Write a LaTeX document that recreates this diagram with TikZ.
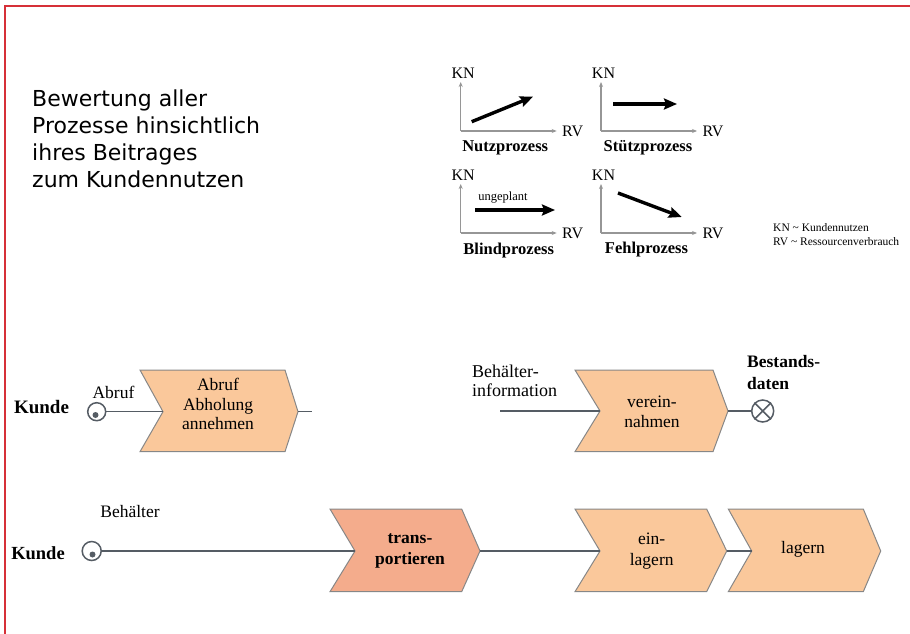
\documentclass[tikz,border=0pt]{standalone}
\usepackage{fontspec}
\setmainfont{Liberation Serif}
\newfontfamily\titlefont{DejaVu Sans}
\usepackage{xcolor}
\usepackage{tikz}
\usetikzlibrary{arrows, arrows.meta}

\definecolor{frame}{RGB}{214,48,56}
\definecolor{peach}{RGB}{250,200,155}
\definecolor{salmon}{RGB}{244,172,140}
\definecolor{edge}{RGB}{135,135,135}
\definecolor{wire}{RGB}{85,92,100}
\definecolor{axisgray}{RGB}{150,150,150}

\tikzset{
  chev/.style={draw=edge, line width=1pt, line join=miter},
  chevtxt/.style={font=\fontsize{17.5}{19.5}\selectfont, align=center, inner sep=0pt},
  label/.style={font=\fontsize{17.5}{19}\selectfont, inner sep=0pt},
  boldlabel/.style={font=\fontsize{17.5}{21.5}\selectfont\bfseries, inner sep=0pt},
  conn/.style={draw=wire, line width=1.2pt},
  axis/.style={draw=axisgray, line width=1.3pt, -{Stealth[length=5pt,width=4pt]}},
  trend/.style={draw=black, line width=3.4pt, -{Stealth[length=13pt,width=11pt,inset=2pt]}},
  axtxt/.style={font=\fontsize{16}{16}\selectfont, inner sep=0pt},
  chtitle/.style={font=\fontsize{16.5}{17}\selectfont\bfseries, inner sep=0pt},
  evcircle/.style={circle, draw=wire, line width=1.5pt, minimum size=18pt, inner sep=0pt},
}

\begin{document}
\begin{tikzpicture}[x=1pt, y=-1pt]
\useasboundingbox (0,0) rectangle (910,634);
% red frame (top and left only)
\draw[frame, line width=2pt] (5,634) -- (5,6) -- (910,6);

% heading
\node[anchor=north west, align=left, inner sep=0pt,
  font=\titlefont\fontsize{22}{27}\selectfont] (heading) at (32,90)
  {Bewertung aller\\Prozesse hinsichtlich\\ihres Beitrages\\zum Kundennutzen};

% four process types
\begin{scope}[shift={(460.7,131)}]
\draw[axis] (0,0) -- (0,-49);
\draw[axis] (0,0) -- (96,0);
\node[axtxt] (kn1) at (2.5,-58) {KN};
\node[axtxt] (rv1) at (112,0) {RV};
\node[chtitle] (nutz) at (44.5,17) {Nutzprozess};
\draw[trend] (11,-9.3) -- (72.3,-34.3);
\end{scope}

\begin{scope}[shift={(601,131)}]
\draw[axis] (0,0) -- (0,-49);
\draw[axis] (0,0) -- (96,0);
\node[axtxt] (kn2) at (2.5,-58) {KN};
\node[axtxt] (rv2) at (112,0) {RV};
\node[chtitle] (stuetz) at (47,17) {Stützprozess};
\draw[trend] (12,-27) -- (76,-27);
\end{scope}

\begin{scope}[shift={(460.7,233)}]
\draw[axis] (0,0) -- (0,-49);
\draw[axis] (0,0) -- (96,0);
\node[axtxt] (kn3) at (2.5,-58) {KN};
\node[axtxt] (rv3) at (112,0) {RV};
\node[chtitle] (blind) at (48,18) {Blindprozess};
\node[font=\fontsize{12.5}{12}\selectfont, inner sep=0pt] (ungeplant) at (42.3,-35) {ungeplant};
\draw[trend] (14.3,-23) -- (94.3,-23);
\end{scope}

\begin{scope}[shift={(601,233)}]
\draw[axis] (0,0) -- (0,-49);
\draw[axis] (0,0) -- (96,0);
\node[axtxt] (kn4) at (2.5,-58) {KN};
\node[axtxt] (rv4) at (112,0) {RV};
\node[chtitle] (fehl) at (45.5,17) {Fehlprozess};
\draw[trend] (17,-40) -- (80.7,-16);
\end{scope}

\node[anchor=west, inner sep=0pt, font=\fontsize{11.5}{11}\selectfont] (legkn) at (773,228) {KN \textasciitilde{} Kundennutzen};
\node[anchor=west, inner sep=0pt, font=\fontsize{11.5}{11}\selectfont] (legrv) at (773,242) {RV \textasciitilde{} Ressourcenverbrauch};

% first row
\node[boldlabel, font=\fontsize{19}{21}\selectfont\bfseries] (kunde1) at (41.5,407) {Kunde};
\node[evcircle] (ev1) at (96.7,411.7) {};
\fill[wire] (95.5,415) circle (3);
\node[label] (abruf) at (113.5,392) {Abruf};
\draw[chev, fill=peach] (140,370) -- (285,370) -- (298,411.7) -- (285,451.7)
  -- (140,451.7) -- (163,411.7) -- cycle;
\coordinate (abrufIn) at (163,411.7);
\coordinate (abrufOut) at (298,411.7);
\node[chevtxt] (abholung) at (218,404) {Abruf\\Abholung\\annehmen};
\coordinate (abrufEnd) at (311.7,411.7);
\draw[conn] (ev1) -- (abrufIn);
\draw[conn] (abrufOut) -- (abrufEnd);

\node[label, anchor=west, align=left, font=\fontsize{18}{18.5}\selectfont] (behinfo) at (472,381) {Behälter-\\information};
\coordinate (infoStart) at (500,411);
\draw[chev, fill=peach] (575,370) -- (713,370) -- (728,411) -- (713,451.7)
  -- (575,451.7) -- (600,411) -- cycle;
\coordinate (vereinIn) at (600,411);
\coordinate (vereinOut) at (728,411);
\node[chevtxt] (verein) at (652,411.7) {verein-\\nahmen};
\node[evcircle, minimum size=22pt] (xor) at (762.7,411) {};
\draw[wire, line width=1.5pt] (xor.north east) -- (xor.south west)
  (xor.north west) -- (xor.south east);
\node[boldlabel, anchor=west, align=left] (bestand) at (747,372.5) {Bestands-\\daten};
\draw[conn] (infoStart) -- (vereinIn);
\draw[conn] (vereinOut) -- (xor);

% second row
\node[boldlabel, font=\fontsize{18.5}{21}\selectfont\bfseries] (kunde2) at (38,553.3) {Kunde};
\node[evcircle, minimum size=19pt] (ev2) at (91.7,551) {};
\fill[wire] (92.5,554.5) circle (3);
\node[label] (behaelter) at (130,511.7) {Behälter};
\draw[chev, fill=salmon] (330,509) -- (461.7,509) -- (480,551) -- (461.7,591.7)
  -- (330,591.7) -- (355,551) -- cycle;
\coordinate (transIn) at (355,551);
\coordinate (transOut) at (480,551);
\node[chevtxt, font=\fontsize{17.5}{21.5}\selectfont\bfseries] (trans) at (410,551) {trans-\\portieren};
\draw[chev, fill=peach] (575,509) -- (706.7,509) -- (726.7,551) -- (706.7,591.7)
  -- (575,591.7) -- (600,551) -- cycle;
\coordinate (einIn) at (600,551);
\coordinate (einOut) at (726.7,551);
\node[chevtxt, font=\fontsize{17.5}{21.5}\selectfont] (ein) at (651.7,551) {ein-\\lagern};
\draw[chev, fill=peach] (728.3,509) -- (863.3,509) -- (880.7,551) -- (863.3,591.7)
  -- (728.3,591.7) -- (751.7,551) -- cycle;
\coordinate (lagIn) at (751.7,551);
\node[chevtxt] (lagern) at (803,549) {lagern};
\draw[conn] (ev2) -- (transIn);
\draw[conn] (transOut) -- (einIn);
\draw[conn] (einOut) -- (lagIn);
\end{tikzpicture}
\end{document}
